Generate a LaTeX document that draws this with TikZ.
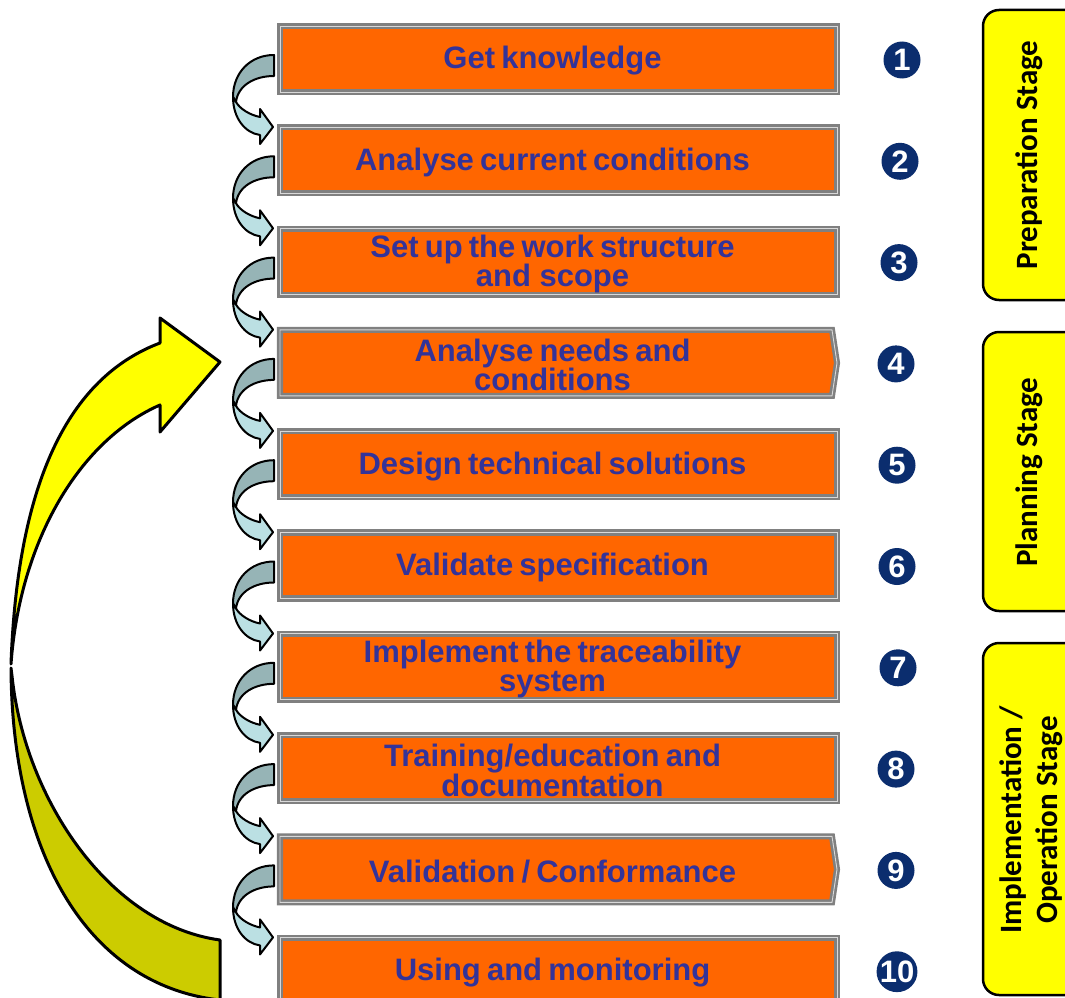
\documentclass[tikz,border=0pt]{standalone}
\usepackage{fontspec}
\setmainfont{Liberation Sans}
\newfontfamily\stagefont{Carlito}
\newcommand\tightspaces{\spaceskip=0.2em plus 0.1em\relax}
\definecolor{boxorange}{HTML}{FF6600}
\definecolor{boxgrey}{HTML}{808080}
\definecolor{boxline}{HTML}{D9D9D9}
\definecolor{txtblue}{HTML}{333399}
\definecolor{navy}{HTML}{0B2D6E}
\definecolor{arrdark}{HTML}{96B4B6}
\definecolor{arrlight}{HTML}{BBE0E3}
\definecolor{yelbright}{HTML}{FFFF00}
\definecolor{yeldark}{HTML}{CCCC00}
\tikzset{
  boxframe/.style={draw=boxgrey, double=boxline, double distance=0.9pt, line width=2.6pt, fill=boxorange, line join=miter},
  steptext/.style={inner sep=0pt, text=txtblue, align=center,
    font=\bfseries\fontsize{31}{29}\selectfont},
  smallarrow/.style={draw=black, line width=2pt, line join=round},
  bigarrow/.style={draw=black, line width=3pt, line join=round},
  numcirc/.style={circle, fill=navy, minimum size=37pt, inner sep=0pt, text=white,
    font=\bfseries\fontsize{31}{31}\selectfont},
  stageframe/.style={draw=black, line width=2.5pt, fill=yelbright, rounded corners=16pt},
  stagetext/.style={rotate=90, align=center, inner sep=0pt,
    font=\stagefont\bfseries\fontsize{31}{36}\selectfont},
}
\begin{document}
\begin{tikzpicture}[x=1pt,y=-1pt]
\clip (0,0) rectangle (1065,998);
\fill[white] (0,0) rectangle (1065,998);

% step boxes
\foreach \i/\txt/\pt in {
  1/{Get knowledge}/0,
  2/{Analyse current conditions}/0,
  3/{Set up the work structure\\and scope}/0,
  4/{Analyse needs and\\conditions}/1,
  5/{Design technical solutions}/0,
  6/{Validate specification}/0,
  7/{Implement the traceability\\system}/0,
  8/{Training/education and\\documentation}/0,
  9/{Validation / Conformance}/1,
  10/{Using and monitoring}/0}{
  \pgfmathsetmacro\t{23+101.3*(\i-1)}
  \ifnum\pt=1
    \path[boxframe] (280,\t+3) -- (832,\t+3) -- (837,\t+36) -- (832,\t+69) -- (280,\t+69) -- cycle;
  \else
    \path[boxframe] (280,\t+3) rectangle (837,\t+69);
  \fi
  \coordinate (c\i) at (277,\t);
  \node[steptext] (b\i) at (552.5,\t+38) {\tightspaces\txt};
}

% small curved arrows between boxes
\foreach \i in {1,...,9}{
  \begin{scope}[shift={(c\i)}]
    \path[smallarrow, fill=arrdark] (-3,32) .. controls (-27,32) and (-44,50) .. (-44,74)
      -- (-41,79) .. controls (-39,62) and (-22,53) .. (-3,53) -- cycle;
    \path[smallarrow, fill=arrlight] (-44,74) .. controls (-44,95) and (-32,110) .. (-17,112)
      -- (-17,121) -- (-4,104) -- (-17,86) -- (-17,94)
      .. controls (-27,92) and (-37,86) .. (-41,79) -- cycle;
  \end{scope}
}

% big return arrow
\path[bigarrow, fill=yeldark] (11,668) .. controls (12,850) and (85,985) .. (220,1000)
  -- (220,940) .. controls (110,925) and (25,800) .. (12,676) -- cycle;
\path[bigarrow, fill=yelbright] (160,343) .. controls (75,375) and (18,470) .. (11,664)
  .. controls (20,540) and (80,440) .. (160,405) -- (160,432) -- (220,362) -- (160,318) -- cycle;

% numbers
\foreach \i/\x in {1/902,2/900,3/899,4/896,5/897,6/897,7/898,8/896,9/896,10/897}{
  \pgfmathsetmacro\t{23+101.3*(\i-1)}
  \node[numcirc] (n\i) at (\x,\t+37) {\i};
}

% stage boxes
\path[stageframe] (983,10) rectangle (1110,300);
\node[stagetext] (s1) at (1029,155) {Preparation Stage};
\path[stageframe] (983,332) rectangle (1110,611);
\node[stagetext] (s2) at (1029,472) {Planning Stage};
\path[stageframe] (983,643) rectangle (1110,995);
\node[stagetext] (s3) at (1031,820) {Implementation /\\Operation Stage};
\end{tikzpicture}
\end{document}
